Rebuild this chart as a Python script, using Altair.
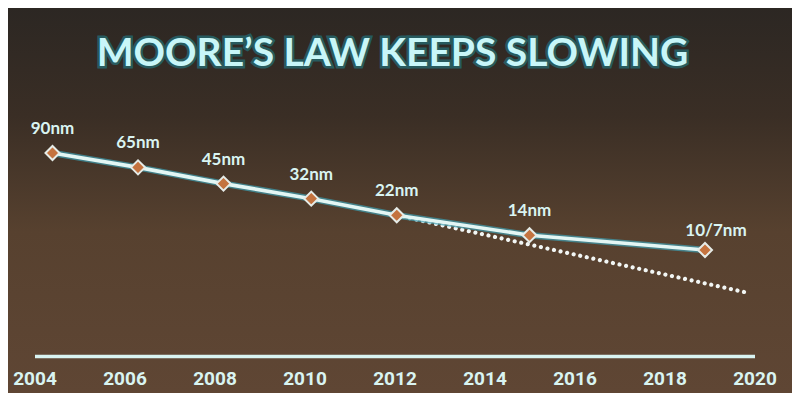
import altair as alt
import pandas as pd

# ---- data ----
years = [2004.4, 2006.3, 2008.2, 2010.15, 2012.05, 2015.0, 2018.9]
nodes = [90, 65, 45, 32, 22, 14, 10]
labels = ["90nm", "65nm", "45nm", "32nm", "22nm", "14nm", "10/7nm"]
trend_years = [2012.05, 2019.85]
trend_nodes = [22, 3.8]
tick_years = [2004, 2006, 2008, 2010, 2012, 2014, 2016, 2018, 2020]
title_text = ["MOORE\u2019S LAW KEEPS SLOWING"]

df = pd.DataFrame({"year": years, "node": nodes, "label": labels})
trend = pd.DataFrame({"year": trend_years, "node": trend_nodes})
tdf = pd.DataFrame({"t": title_text})

W, H = 720, 258
LIGHT = "#d9f4f2"

xs = alt.Scale(domain=[2004, 2020], nice=False, zero=False)
ys = alt.Scale(type="log", domain=[0.908, 312.6], nice=False)

x_axis = alt.Axis(values=tick_years, format="d", title=None, grid=False, ticks=False,
                  domain=True, domainColor=LIGHT, domainWidth=3.5,
                  labelColor=LIGHT, labelFont="Roboto", labelFontSize=19,
                  labelFontWeight="bold", labelPadding=13, labelFlush=False, zindex=2)

X = alt.X("year:Q", scale=xs, axis=x_axis)
Y = alt.Y("node:Q", scale=ys, axis=None)

grad = alt.Gradient(
    gradient="linear", x1=0, x2=0, y1=0, y2=1,
    stops=[alt.GradientStop(offset=0, color="#2c2723"),
           alt.GradientStop(offset=0.28, color="#3a2e25"),
           alt.GradientStop(offset=0.58, color="#57412f"),
           alt.GradientStop(offset=1, color="#5f4634")])
bg = alt.Chart(alt.Data(values=[{"a": 1}])).mark_rect(fill=grad).encode(
    x=alt.value(-27), x2=alt.value(W + 38), y=alt.value(-90), y2=alt.value(H + 37))

title_glow = alt.Chart(tdf).mark_text(font="Lato", fontSize=39, fontWeight="bold",
                                      color="#1c97a6", stroke="#1c97a6", strokeWidth=5,
                                      opacity=0.45, baseline="alphabetic", align="center").encode(
    x=alt.value(W / 2 - 2), y=alt.value(-32), text="t:N")
title = alt.Chart(tdf).mark_text(font="Lato", fontSize=39, fontWeight="bold",
                                 color="#c8f6f8", baseline="alphabetic", align="center").encode(
    x=alt.value(W / 2 - 2), y=alt.value(-32), text="t:N")

dotted = alt.Chart(trend).mark_line(color="#f2f6f4", strokeWidth=4.2, strokeDash=[0.01, 6.7],
                                    strokeCap="round").encode(x=X, y=Y)
glow = alt.Chart(df).mark_line(color="#3f9fb2", strokeWidth=6.5, opacity=0.7).encode(x=X, y=Y)
line = alt.Chart(df).mark_line(color="#e3f6f4", strokeWidth=3.6).encode(x=X, y=Y)
pts = alt.Chart(df).mark_point(shape="diamond", size=196, filled=True, fill="#c4733f",
                               stroke="#e6ece8", strokeWidth=2, opacity=1).encode(x=X, y=Y)
txt = alt.Chart(df).mark_text(font="Lato", fontWeight="bold", fontSize=17, color=LIGHT,
                              dy=-24).encode(x=X, y=Y, text="label:N").transform_filter(
    alt.datum.label != "10/7nm")
txt_last = alt.Chart(df).mark_text(font="Lato", fontWeight="bold", fontSize=17, color=LIGHT,
                                   dy=-19, dx=11).encode(x=X, y=Y, text="label:N").transform_filter(
    alt.datum.label == "10/7nm")

chart = alt.layer(bg, title_glow, title, dotted, glow, line, pts, txt, txt_last).properties(
    width=W, height=H,
    autosize="none",
    padding={"left": 26.5, "right": 37.5, "top": 90, "bottom": 37},
    background="#2f2823",
).configure_view(stroke=None)

chart.save("out.html", embed_options={"renderer": "svg", "actions": False})
